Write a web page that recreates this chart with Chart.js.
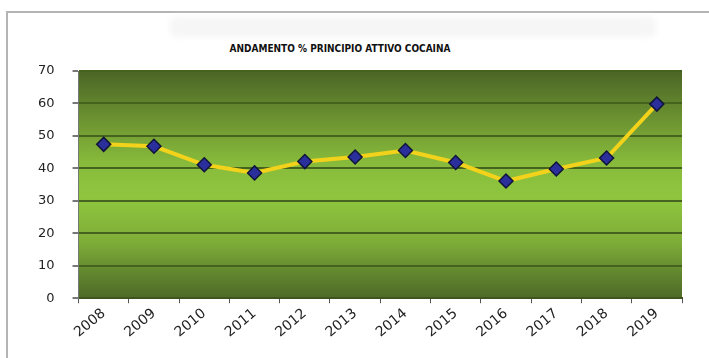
<!DOCTYPE html>
<html>
<head>
<meta charset="utf-8">
<script src="https://cdn.jsdelivr.net/npm/chart.js@4"></script>
<style>
  html, body { margin: 0; padding: 0; background: #fff; }
  #wrap { position: relative; width: 709px; height: 358px; overflow: hidden; }
  #frame { position: absolute; left: 6px; top: 11px; width: 720px; height: 360px; border-left: 2px solid #b4b4b4; border-top: 2px solid #b4b4b4; }
  #haze { position: absolute; left: 170px; top: 17px; width: 486px; height: 20px; background: #f6f6f6; border-radius: 6px; filter: blur(3px); }
  #title { position: absolute; left: 170px; top: 43px; width: 340px; text-align: center; font: bold 10px "DejaVu Sans Condensed", "DejaVu Sans", sans-serif; color: #111; }
  canvas { position: absolute; left: 0; top: 0; }
</style>
</head>
<body>
<div id="wrap">
  <div id="frame"></div>
  <div id="haze"></div>
  <div id="title">ANDAMENTO % PRINCIPIO ATTIVO COCAINA</div>
  <canvas id="cocaChart" width="709" height="358"></canvas>
</div>
<script>
var years = ['2008', '2009', '2010', '2011', '2012', '2013', '2014', '2015', '2016', '2017', '2018', '2019'];
var purezza = [47.4, 46.8, 41.1, 38.6, 42.1, 43.5, 45.5, 41.8, 36.1, 39.8, 43.2, 59.8];
var yTicks = [0, 10, 20, 30, 40, 50, 60, 70];

// gradient verde dietro l'area del grafico
var plotBg = {
    id: 'plotBg',
    beforeDraw: function (chart) {
        var a = chart.chartArea;
        var c = chart.ctx;
        var g = c.createLinearGradient(0, a.top, 0, a.bottom);
        g.addColorStop(0, '#4b6526');
        g.addColorStop(0.2, '#6a9030');
        g.addColorStop(0.4, '#87ba3b');
        g.addColorStop(0.55, '#8fc63e');
        g.addColorStop(0.75, '#7fae38');
        g.addColorStop(0.9, '#5f832e');
        g.addColorStop(1, '#4e6a27');
        c.save();
        c.fillStyle = g;
        c.fillRect(a.left, a.top, a.right - a.left, a.bottom - a.top);
        c.restore();
    }
};

var ctx = document.getElementById('cocaChart').getContext('2d');
var cocaChart = new Chart(ctx, {
    type: 'line',
    data: {
        labels: years,
        datasets: [{
            data: purezza,
            borderColor: '#f2d21a',
            borderWidth: 4,
            tension: 0,
            pointStyle: 'rectRot',
            pointRadius: 7,
            pointBackgroundColor: '#2a2f9c',
            pointBorderColor: '#10143a',
            pointBorderWidth: 1.5
        }]
    },
    options: {
        responsive: false,
        animation: false,
        layout: { padding: { left: 20, right: 27, top: 71, bottom: 15 } },
        plugins: { legend: { display: false }, title: { display: false }, tooltip: { enabled: false } },
        scales: {
            x: {
                offset: true,
                grid: { offset: true, drawOnChartArea: false, drawTicks: true, tickLength: 5, tickColor: '#555' },
                border: { color: '#3f5520', width: 2 },
                ticks: {
                    color: '#222',
                    font: { family: 'DejaVu Sans', size: 14 },
                    minRotation: 40,
                    maxRotation: 40,
                    padding: 2
                }
            },
            y: {
                min: 0,
                max: 70,
                afterBuildTicks: function (axis) {
                    axis.ticks = yTicks.map(function (v) { return { value: v }; });
                },
                grid: { color: '#45621f', lineWidth: 2, tickLength: 6, tickColor: '#777' },
                border: { color: '#777', width: 1 },
                ticks: {
                    color: '#222',
                    font: { family: 'DejaVu Sans', size: 13 },
                    padding: 18
                }
            }
        }
    },
    plugins: [plotBg]
});
</script>
</body>
</html>
